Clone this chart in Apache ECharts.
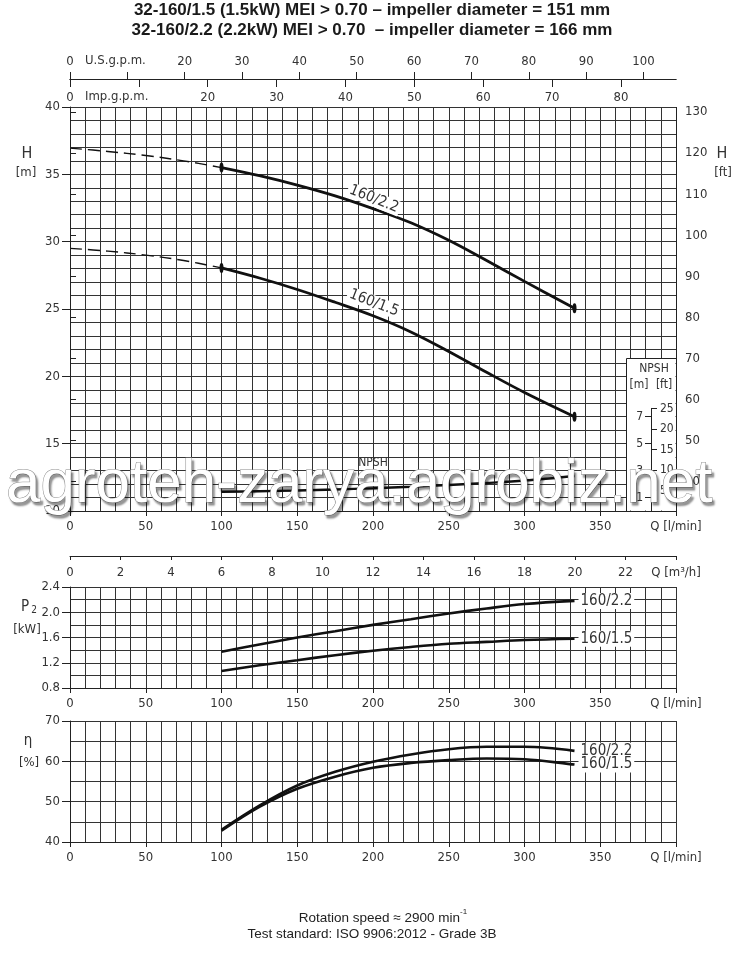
<!DOCTYPE html>
<html><head><meta charset="utf-8">
<script src="https://cdn.jsdelivr.net/npm/echarts@6/dist/echarts.min.js"></script>
<style>html,body{margin:0;padding:0;background:#fff}#c{width:742px;height:970px}</style>
</head><body><div id="c"></div>
<script>
// ---------------- DATA ----------------
const titleLines = [
  '32-160/1.5 (1.5kW) MEI > 0.70 \u2013 impeller diameter = 151 mm',
  '32-160/2.2 (2.2kW) MEI > 0.70  \u2013 impeller diameter = 166 mm'
];
const seriesNames = ['160/2.2', '160/1.5'];
// head curves, dashed part (l/min, m)
const flowDashed = [0, 25, 50, 75, 100];
const head22Dashed = [36.95, 36.7, 36.4, 36.0, 35.5];
const head15Dashed = [29.5, 29.3, 29.0, 28.6, 28.05];
// working range (l/min)
const flow = [100, 125, 150, 175, 200, 225, 250, 275, 300, 333];
const head22 = [35.5, 34.9, 34.2, 33.4, 32.45, 31.4, 30.1, 28.6, 27.05, 25.05];
const head15 = [28.05, 27.3, 26.45, 25.5, 24.5, 23.3, 21.85, 20.3, 18.8, 17.0];
const npsh = [1.43, 1.47, 1.52, 1.6, 1.69, 1.8, 1.93, 2.08, 2.26, 2.6];
const power22 = [1.375, 1.49, 1.60, 1.70, 1.80, 1.89, 1.98, 2.06, 2.13, 2.18];
const power15 = [1.07, 1.16, 1.24, 1.32, 1.39, 1.45, 1.50, 1.53, 1.56, 1.58];
const eff22 = [43.0, 49.0, 54.0, 57.4, 59.9, 61.7, 63.0, 63.6, 63.6, 62.6];
const eff15 = [42.8, 48.7, 53.2, 56.2, 58.4, 59.6, 60.3, 60.7, 60.5, 59.2];
// axes / ticks
const flowMax = 400;                 // l/min
const headRange = [10, 40];          // m
const ftLabelRange = [40, 130];      // ft
const npshMTicks = [1, 3, 5, 7];
const npshFtMax = 25;
const powerRange = [0.8, 2.4];
const effRange = [40, 70];
const toUSgpm = 0.264172, toImpgpm = 0.219969, toM3h = 0.06, mToFt = 1 / 0.3048;
const bottomTexts = ['Rotation speed \u2248 2900 min', '-1', 'Test standard: ISO 9906:2012 - Grade 3B'];
const watermark = 'agroteh-zarya.agrobiz.net';

// ---------------- STYLE ----------------
const FONT = "'DejaVu Sans Condensed','Liberation Sans',sans-serif";
const SANS = "'Liberation Sans',Arial,sans-serif";
const TXT = '#333';
const GRIDC = '#333';
const LINE = '#111';
const NONE = 'rgba(0,0,0,0)';
const lab = (extra) => Object.assign({ fontFamily: FONT, fontSize: 13, color: TXT }, extra || {});
const gridLine = { show: true, lineStyle: { color: GRIDC, width: 1 } };
const axLine = { show: true, lineStyle: { color: '#222', width: 1 } };
const tickStyle = { color: '#222', width: 1 };

// layout
const mainTop = 107, mainH = 404, pxPerM = mainH / (headRange[1] - headRange[0]);
const yOfM = m => mainTop + (headRange[1] - m) * pxPerM;
const G = [
  { left: 70, top: mainTop, width: 606, height: mainH },                                           // 0 H
  { left: 651, top: yOfM(headRange[0] + npshFtMax / mToFt), width: 1, height: npshFtMax / mToFt * pxPerM }, // 1 NPSH inset axes
  { left: 70, top: 587, width: 606, height: 101 },                                                 // 2 P2
  { left: 70, top: 721, width: 606, height: 121 },                                                 // 3 eta
  { left: 70, top: yOfM(ftLabelRange[1] / mToFt), width: 606,
    height: (ftLabelRange[1] - ftLabelRange[0]) / mToFt * pxPerM }                                 // 4 ft scale
];

function qAxis(gi) {
  return {
    type: 'value', gridIndex: gi, position: 'bottom', min: 0, max: flowMax, interval: 50, z: 5,
    axisLine: axLine, axisTick: { show: true, length: 5, lineStyle: tickStyle },
    axisLabel: lab({ margin: 9, formatter: v => v === flowMax ? 'Q [l/min]' : String(v) }),
    splitLine: { show: false }
  };
}
function labY(gi, min, max, step, fmt) {
  return {
    type: 'value', gridIndex: gi, position: 'left', min, max, interval: step, z: 5,
    axisLine: axLine, axisTick: { show: true, length: 8, lineStyle: tickStyle },
    axisLabel: lab({ margin: 10, formatter: fmt || (v => String(v)) }),
    splitLine: { show: false }
  };
}
function gridAxis(gi, min, max, step, pos) {
  return {
    type: 'value', gridIndex: gi, position: pos, min, max, interval: step, z: 0,
    axisLine: { show: false, lineStyle: { color: NONE, width: 0 } },
    axisTick: { show: false, length: 0, lineStyle: { color: NONE, width: 0 } },
    minorTick: { show: false },
    axisLabel: { show: false, color: NONE },
    splitLine: gridLine
  };
}

const xAxis = [
  qAxis(0),                                                            // 0
  { // 1 US gpm
    type: 'value', gridIndex: 0, position: 'top', offset: 28, min: 0, max: flowMax * toUSgpm, interval: 10,
    axisLine: axLine, axisTick: { show: true, length: 7, lineStyle: tickStyle },
    axisLabel: lab({ margin: 11, showMaxLabel: false, formatter: v => v === 10 ? '' : String(v) }),
    splitLine: { show: false }
  },
  { // 2 Imp gpm
    type: 'value', gridIndex: 0, position: 'top', offset: 28, min: 0, max: flowMax * toImpgpm, interval: 10,
    axisLine: axLine, axisTick: { show: true, inside: true, length: 8, lineStyle: tickStyle },
    axisLabel: lab({ inside: true, margin: 12, showMaxLabel: false, formatter: v => v === 10 ? '' : String(v) }),
    splitLine: { show: false }
  },
  { type: 'value', gridIndex: 1, min: 0, max: 1, show: false },        // 3
  qAxis(2),                                                            // 4
  { // 5 m3/h
    type: 'value', gridIndex: 2, position: 'top', offset: 31, min: 0, max: flowMax * toM3h, interval: 2,
    axisLine: axLine, axisTick: { show: true, inside: true, length: 4, lineStyle: tickStyle },
    axisLabel: lab({ inside: true, margin: 10, formatter: v => v === 24 ? 'Q [m\u00b3/h]' : String(v) }),
    splitLine: { show: false }
  },
  qAxis(3),                                                            // 6
  gridAxis(0, 0, flowMax, 10, 'bottom'),                               // 7
  gridAxis(2, 0, flowMax, 10, 'bottom'),                               // 8
  gridAxis(3, 0, flowMax, 10, 'bottom'),                               // 9
  { type: 'value', gridIndex: 4, min: 0, max: 1, show: false }         // 10
];

const yAxis = [
  labY(0, headRange[0], headRange[1], 5),                              // 0 H m
  { // 1 H ft
    type: 'value', gridIndex: 4, position: 'right', min: ftLabelRange[0], max: ftLabelRange[1], interval: 10, z: 5,
    axisLine: { show: false },
    axisTick: { show: true, length: 6, lineStyle: tickStyle },
    axisLabel: lab({ margin: 9 }),
    splitLine: { show: false }
  },
  { type: 'value', gridIndex: 0, min: 0, max: headRange[1] - headRange[0], show: false }, // 2 NPSH plotting
  { // 3 NPSH m (inset)
    type: 'value', gridIndex: 1, position: 'left', min: 0, max: npshFtMax / mToFt, z: 10,
    axisLine: axLine,
    axisTick: { show: true, length: 6, customValues: npshMTicks, lineStyle: tickStyle },
    axisLabel: lab({ margin: 8, fontSize: 12, customValues: npshMTicks }),
    splitLine: { show: false }
  },
  { // 4 NPSH ft (inset)
    type: 'value', gridIndex: 1, position: 'left', min: 0, max: npshFtMax, interval: 5, z: 10,
    axisLine: axLine,
    axisTick: { show: true, inside: true, length: 6, lineStyle: tickStyle },
    axisLabel: lab({ inside: true, margin: 9, fontSize: 12, formatter: v => v === 0 ? '' : String(v) }),
    splitLine: { show: false }
  },
  labY(2, powerRange[0], powerRange[1], 0.4, v => v.toFixed(1)),       // 5
  labY(3, effRange[0], effRange[1], 10),                               // 6
  gridAxis(0, headRange[0], headRange[1], 1, 'left'),                  // 7
  gridAxis(2, powerRange[0], powerRange[1], 0.2, 'left'),              // 8
  gridAxis(3, effRange[0], effRange[1], 5, 'left')                     // 9
];

const pairs = (xs, ys) => xs.map((x, i) => [x, ys[i]]);
const endMarks = (xs, ys) => xs.map((x, i) => (i === 0 || i === xs.length - 1)
  ? { value: [x, ys[i]], symbol: 'circle', symbolSize: [4, 10] } : { value: [x, ys[i]], symbol: 'none' });

function headSeries(name, xs, ys, dashed) {
  return {
    type: 'line', name, xAxisIndex: 0, yAxisIndex: 0, smooth: 0.35, animation: false,
    showSymbol: !dashed, showAllSymbol: true, symbol: 'none',
    itemStyle: { color: LINE },
    data: dashed ? pairs(xs, ys) : endMarks(xs, ys),
    lineStyle: dashed ? { color: LINE, width: 1.4, type: [12, 6] } : { color: LINE, width: 2.8 },
    z: 3
  };
}
function curveSeries(name, xi, yi, ys) {
  return {
    type: 'line', name, xAxisIndex: xi, yAxisIndex: yi, smooth: 0.35, animation: false,
    symbol: 'none', data: pairs(flow, ys), lineStyle: { color: LINE, width: 2.6 },
    endLabel: {
      show: true, formatter: '{a}', distance: 4, color: TXT, fontFamily: FONT, fontSize: 15,
      backgroundColor: '#fff', padding: [1, 2, 0, 2]
    },
    z: 3
  };
}

const series = [
  headSeries(seriesNames[0], flowDashed, head22Dashed, true),
  headSeries(seriesNames[0], flow, head22, false),
  headSeries(seriesNames[1], flowDashed, head15Dashed, true),
  headSeries(seriesNames[1], flow, head15, false),
  { type: 'line', name: 'NPSH', xAxisIndex: 0, yAxisIndex: 2, smooth: 0.35, animation: false,
    symbol: 'none', data: pairs(flow, npsh), lineStyle: { color: LINE, width: 2.4 }, z: 3 },
  curveSeries(seriesNames[0], 4, 5, power22),
  curveSeries(seriesNames[1], 4, 5, power15),
  curveSeries(seriesNames[0], 6, 6, eff22),
  curveSeries(seriesNames[1], 6, 6, eff15)
];

const T = (text, x, y, o) => ({
  type: 'text', x, y, z: (o && o.z) || 20, rotation: (o && o.rotation) || 0,
  style: Object.assign({ text, fill: TXT, font: '13px ' + FONT, align: 'center', verticalAlign: 'middle' }, (o && o.style) || {})
});
// white strips left of each grid (keep only the real ticks visible there)
const strip = (g) => ({ type: 'rect', z: 1, shape: { x: 56, y: g.top - 2, width: 13.6, height: g.height + 4 }, style: { fill: '#fff' } });

const graphic = [
  strip(G[0]), strip(G[2]), strip(G[3]),
  T(titleLines[0], 372, 10, { style: { font: 'bold 17px ' + SANS, fill: '#1a1a1a' } }),
  T(titleLines[1], 372, 30, { style: { font: 'bold 17px ' + SANS, fill: '#1a1a1a' } }),
  T('U.S.g.p.m.', 85, 61, { style: { align: 'left' } }),
  T('Imp.g.p.m.', 85, 97, { style: { align: 'left' } }),
  T('H', 27, 154, { style: { font: '16px ' + FONT } }),
  T('[m]', 26, 173),
  T('H', 722, 154, { style: { font: '16px ' + FONT } }),
  T('[ft]', 723, 173),
  // NPSH inset box
  { type: 'rect', z: 1, shape: { x: 626, y: 358, width: 49.5, height: 152.5 }, style: { fill: '#fff' } },
  { type: 'polyline', z: 2, shape: { points: [[626.5, 511], [626.5, 358.5], [676, 358.5]] }, style: { stroke: '#222', lineWidth: 1, fill: null } },
  { type: 'line', z: 2, shape: { x1: 676.5, y1: 107, x2: 676.5, y2: 511 }, style: { stroke: '#222', lineWidth: 1 } },
  T('NPSH', 654, 369, { style: { font: '12px ' + FONT } }),
  T('[m]', 639, 385, { style: { font: '12px ' + FONT } }),
  T('[ft]', 664, 385, { style: { font: '12px ' + FONT } }),
  T('NPSH', 373, 463, { style: { font: '12px ' + FONT } }),
  // curve labels on H chart
  T(seriesNames[0], 374, 199, { z: 4, rotation: -22 * Math.PI / 180, style: { font: '15px ' + FONT, backgroundColor: '#fff', padding: [0, 2] } }),
  T(seriesNames[1], 374, 303, { z: 4, rotation: -21 * Math.PI / 180, style: { font: '15px ' + FONT, backgroundColor: '#fff', padding: [0, 2] } }),
  // P2 / eta labels
  T('P', 25, 607, { style: { font: '15px ' + FONT } }),
  T('2', 34, 610, { style: { font: '10px ' + FONT } }),
  T('[kW]', 27, 630),
  T('\u03b7', 28, 741, { style: { font: '15px ' + FONT } }),
  T('[%]', 29, 763),
  // bottom texts
  T(bottomTexts[0], 460, 918, { style: { font: '13.5px ' + SANS, align: 'right', fill: '#222' } }),
  T(bottomTexts[1], 460, 912, { style: { font: '8px ' + SANS, align: 'left', fill: '#222' } }),
  T(bottomTexts[2], 372, 934, { style: { font: '13.5px ' + SANS, fill: '#222' } }),
  // watermark
  { type: 'text', x: 6, y: 516, z: 100,
    style: { text: watermark, font: '62px ' + SANS, fill: '#ffffff', stroke: '#8a8a8a', lineWidth: 1,
      align: 'left', verticalAlign: 'bottom',
      textShadowColor: 'rgba(0,0,0,0.4)', textShadowBlur: 2, textShadowOffsetX: 2, textShadowOffsetY: 3 } }
];

const chart = echarts.init(document.getElementById('c'), null, { renderer: 'canvas' });
chart.setOption({
  animation: false, backgroundColor: '#fff',
  grid: G, xAxis, yAxis, series, graphic
});
</script></body></html>
